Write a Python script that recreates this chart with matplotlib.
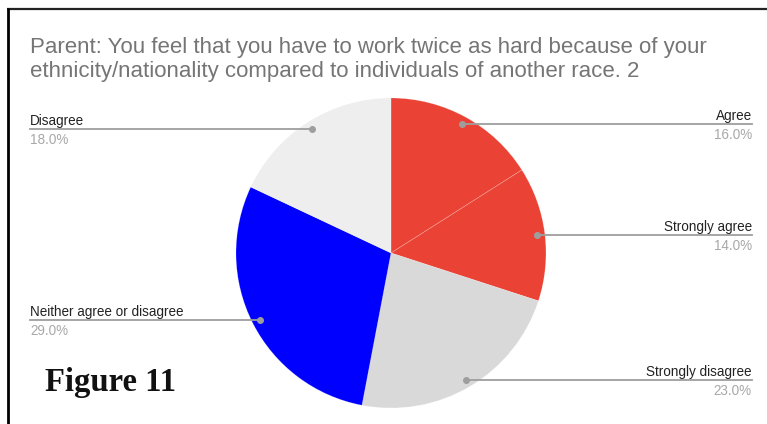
import numpy as np
import matplotlib.pyplot as plt

# Survey responses (share of parents)
labels = ["Agree", "Strongly agree", "Strongly disagree",
          "Neither agree or disagree", "Disagree"]
shares = [16.0, 14.0, 23.0, 29.0, 18.0]
colors = ["#EA4335", "#EA4335", "#D9D9D9", "#0000FF", "#EEEEEE"]
title_lines = ["Parent: You feel that you have to work twice as hard because of your",
               "ethnicity/nationality compared to individuals of another race. 2"]

W, H = 767, 424
DPI = 100

fig = plt.figure(figsize=(W / DPI, H / DPI), dpi=DPI)
ax = fig.add_axes([0, 0, 1, 1])

# pixel helpers (y measured from the top)
def py(y):
    return H - y

cx, cy, r = 391, 253, 155
wedges, _ = ax.pie(shares, colors=colors, startangle=90, counterclock=False,
                   center=(cx, py(cy)), radius=r, frame=True,
                   wedgeprops=dict(linewidth=0.5, edgecolor=(1, 1, 1, 0.25)))
ax.set_xlim(0, W)
ax.set_ylim(0, H)
ax.set_aspect("equal")
ax.axis("off")

# leader lines with labels
font = "Liberation Sans"
cum = np.cumsum([0] + shares[:-1])
for lab, val, start in zip(labels, shares, cum):
    ang = np.deg2rad(90 - (start + val / 2) / 100 * 360)
    dx = cx + 0.95 * r * np.cos(ang)
    dy = py(cy) + 0.95 * r * np.sin(ang)
    right = np.cos(ang) > 0
    x_end = 752 if right else 30
    ax.plot([dx, x_end], [dy, dy], color="#9E9E9E", lw=1.3, zorder=3)
    ax.plot(dx, dy, "o", ms=4, color="#9E9E9E", zorder=4)
    ha = "right" if right else "left"
    ax.text(x_end, dy + 4, lab, ha=ha, va="baseline", fontsize=9.75,
            family=font, color="#222222")
    ax.text(x_end, dy - 4.5, f"{val:.1f}%", ha=ha, va="top", fontsize=9.75,
            family=font, color="#A8A8A8")

for i, line in enumerate(title_lines):
    ax.text(30, py(52.5 + 24 * i), line, ha="left", va="baseline",
            fontsize=16, family=font, color="#757575")

ax.text(45, py(391), "Figure 11", ha="left", va="baseline", fontsize=23.5,
        family="Liberation Serif", fontweight="bold", color="#111111")

# frame edges
ax.plot([7, W], [py(8.5), py(8.5)], color="#222222", lw=1.6, solid_capstyle="butt")
ax.plot([8, 8], [py(8), 0], color="#000000", lw=2.0, solid_capstyle="butt")

fig.savefig("out.png", dpi=DPI)
